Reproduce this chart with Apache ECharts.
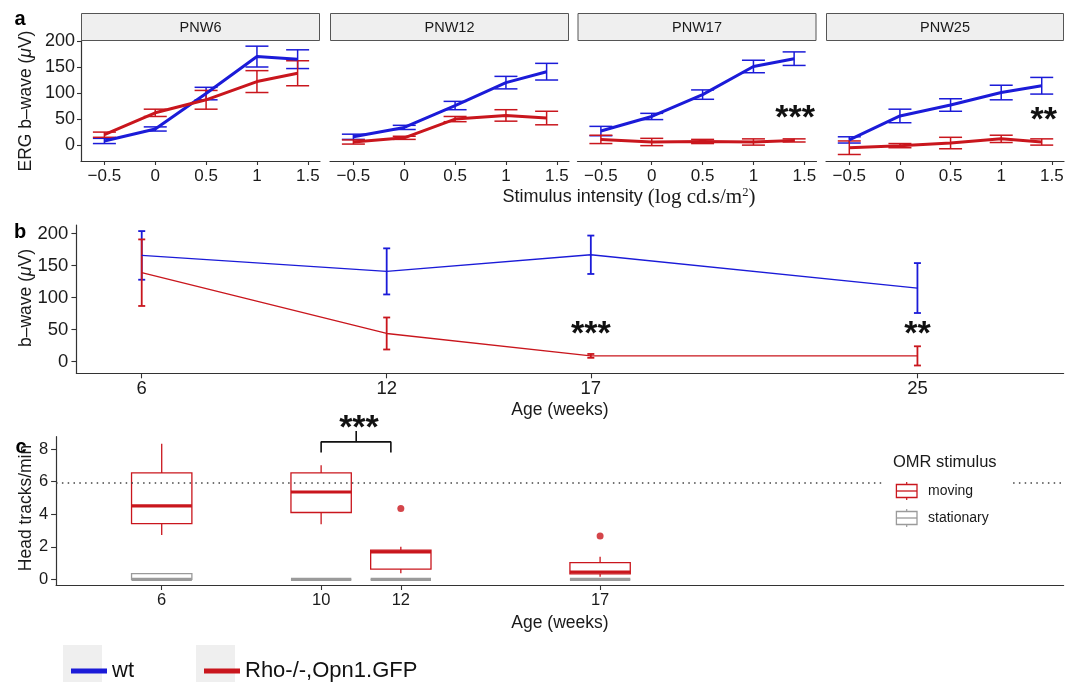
<!DOCTYPE html>
<html><head><meta charset="utf-8">
<script src="https://cdn.jsdelivr.net/npm/echarts@6/dist/echarts.min.js"></script>
<style>html,body{margin:0;padding:0;background:#fff}#c{width:1067px;height:682px}</style>
</head><body><div id="c"></div>
<script>
const FONT = '"Liberation Sans", Arial, Helvetica, sans-serif';
const SERIF = '"Liberation Serif", "DejaVu Serif", serif';
const BLUE = '#1b1bd8', RED = '#c9161d', GRAY = '#9a9a9a', AXIS = '#333333', TXT = '#1a1a1a';

// ---- Panel a : ERG b-wave vs stimulus intensity ----
const panelNames = ['PNW6', 'PNW12', 'PNW17', 'PNW25'];
const intensity = [-0.5, 0, 0.5, 1, 1.4];
const intensityTicks = [-0.5, 0, 0.5, 1, 1.5];
const ergTicks = [0, 50, 100, 150, 200];
const wtErg = [[8, 31, 99, 170, 165], [16, 34, 76, 120, 141], [27, 55, 97, 151, 166], [10, 56, 77, 101, 114]];
const wtErgSE = [[5, 4, 12, 20, 18], [5, 4, 8, 12, 16], [9, 6, 9, 12, 13], [6, 13, 12, 14, 16]];
const rhoErg = [[20, 62, 87, 122, 138], [6, 14, 50, 57, 52], [11, 6, 7, 6, 9], [-5, -1, 4, 12, 6]];
const rhoErgSE = [[5, 7, 18, 21, 24], [4, 3, 5, 11, 13], [8, 7, 4, 6, 3], [13, 4, 11, 7, 6]];
const ergSignifText = [null, null, '***', '**'];
const ergSignifPos = [null, null, [1.41, 66], [1.42, 62]];

// ---- Panel b : b-wave vs age ----
const ageB = [6, 12, 17, 25];
const wtB = [166, 141, 167, 115];
const wtBSE = [38, 36, 30, 39];
const rhoB = [139, 44, 9, 9];
const rhoBSE = [52, 25, 3, 15];
const bTicks = [0, 50, 100, 150, 200];
const bSignifText = ['***', '**'];
const bSignifPos = [[17, 54.5], [25, 54.5]];

// ---- Panel c : OMR head tracks ----
const ageC = [6, 10, 12, 17];
const cTicks = [0, 2, 4, 6, 8];
// [min, Q1, median, Q3, max]
const movingBox = [[2.72, 3.43, 4.52, 6.54, 8.34], [3.39, 4.11, 5.37, 6.54, 7.01], [0.37, 0.63, 1.69, 1.80, 2.00], [0.16, 0.33, 0.45, 1.02, 1.39]];
const stationaryBox = [[0, 0, 0, 0.35, 0.35], [0, 0, 0, 0, 0], [0, 0, 0, 0, 0], [0, 0, 0, 0, 0]];
const movingOutliers = [[12, 4.36], [17, 2.67]];
const wtReference = 5.93;
const bracketPts = [[10, 7.8], [10, 8.45], [11.75, 8.45], [11.75, 7.8]];
const bracketStem = [[10.88, 8.45], [10.88, 9.12]];
const cSignifText = ['***'];
const cSignifPos = [[10.95, 9.75]];

// ---------------- layout ----------------
const aTop = 40.7, aH = 120.3;
const aGrids = [{ left: 81, w: 239 }, { left: 330, w: 239 }, { left: 577.5, w: 239 }, { left: 826, w: 238 }];
const grids = aGrids.map(g => ({ left: g.left, top: aTop, width: g.w, height: aH }));
grids.push({ left: 76.4, top: 225, width: 987.2, height: 148.3 });   // b : index 4
grids.push({ left: 56.1, top: 436.7, width: 1007.5, height: 148.3 }); // c : index 5

const fmtNum = v => (v < 0 ? '\u2212' + Math.abs(v) : String(v));

function xAx(gi, min, max, ticks, fs, margin, tl) {
  return {
    type: 'value', gridIndex: gi, min: min, max: max,
    axisLine: { show: true, onZero: false, lineStyle: { color: AXIS, width: 1.2 } },
    axisTick: { show: true, length: tl, customValues: ticks, lineStyle: { color: AXIS, width: 1.1 } },
    axisLabel: { show: true, customValues: ticks, formatter: fmtNum, fontSize: fs, color: TXT, fontFamily: FONT, margin: margin },
    splitLine: { show: false }
  };
}
function yAx(gi, min, max, ticks, fs, margin, tl, show) {
  return {
    type: 'value', gridIndex: gi, min: min, max: max, show: show,
    axisLine: { show: true, onZero: false, lineStyle: { color: AXIS, width: 1.2 } },
    axisTick: { show: true, length: tl, customValues: ticks, lineStyle: { color: AXIS, width: 1.1 } },
    axisLabel: { show: true, customValues: ticks, formatter: fmtNum, fontSize: fs, color: TXT, fontFamily: FONT, margin: margin },
    splitLine: { show: false }
  };
}

const xAxes = [], yAxes = [];
for (let i = 0; i < 4; i++) {
  xAxes.push(xAx(i, -0.73, 1.62, intensityTicks, 17, 7, 4));
  yAxes.push(yAx(i, -30.5, 200.5, ergTicks, 18, 6, 4, i === 0));
}
xAxes.push(xAx(4, 4.40, 28.58, ageB, 18.5, 6, 5));
yAxes.push(yAx(4, -18.2, 213.5, bTicks, 18.5, 8, 5, true));
xAxes.push(xAx(5, 3.35, 28.63, ageC, 16.5, 7, 5));
yAxes.push(yAx(5, -0.35, 8.77, cTicks, 16.5, 8, 5, true));

function errBar(capPx, lw, color) {
  return function (params, api) {
    const x = api.value(0), lo = api.value(1), hi = api.value(2);
    const a = api.coord([x, lo]), b = api.coord([x, hi]);
    const st = { stroke: color, lineWidth: lw, fill: null };
    return {
      type: 'group', children: [
        { type: 'line', shape: { x1: a[0], y1: a[1], x2: b[0], y2: b[1] }, style: st },
        { type: 'line', shape: { x1: a[0] - capPx, y1: a[1], x2: a[0] + capPx, y2: a[1] }, style: st },
        { type: 'line', shape: { x1: b[0] - capPx, y1: b[1], x2: b[0] + capPx, y2: b[1] }, style: st }
      ]
    };
  };
}
function boxRender(color, halfW) {
  return function (params, api) {
    const x = api.value(0);
    const v = [1, 2, 3, 4, 5].map(k => api.value(k));
    const pMin = api.coord([x, v[0]]), pQ1 = api.coord([x, v[1]]), pMed = api.coord([x, v[2]]);
    const pQ3 = api.coord([x, v[3]]), pMax = api.coord([x, v[4]]);
    const l = api.coord([x - halfW, v[1]])[0], r = api.coord([x + halfW, v[1]])[0];
    const st = { stroke: color, lineWidth: 1.3, fill: null };
    return {
      type: 'group', children: [
        { type: 'line', shape: { x1: pMax[0], y1: pMax[1], x2: pQ3[0], y2: pQ3[1] }, style: st },
        { type: 'line', shape: { x1: pQ1[0], y1: pQ1[1], x2: pMin[0], y2: pMin[1] }, style: st },
        { type: 'rect', shape: { x: l, y: pQ3[1], width: r - l, height: pQ1[1] - pQ3[1] }, style: { stroke: color, lineWidth: 1.3, fill: '#ffffff' } },
        { type: 'line', shape: { x1: l, y1: pMed[1], x2: r, y2: pMed[1] }, style: { stroke: color, lineWidth: 3.2 } }
      ]
    };
  };
}
function starRender(texts, fs) {
  return function (params, api) {
    const p = api.coord([api.value(0), api.value(1)]);
    return {
      type: 'text', x: p[0], y: p[1] + 0.22 * fs,
      style: { text: texts[params.dataIndex], fontSize: fs, fontWeight: 'bold', fontFamily: FONT, fill: '#111', align: 'center', verticalAlign: 'middle' }
    };
  };
}

const series = [];
for (let p = 0; p < 4; p++) {
  series.push({
    type: 'custom', name: 'wt SE', xAxisIndex: p, yAxisIndex: p, z: 2, silent: true,
    renderItem: errBar(11.5, 1.5, BLUE), encode: { x: 0, y: [1, 2] },
    data: intensity.map((x, i) => [x, wtErg[p][i] - wtErgSE[p][i], wtErg[p][i] + wtErgSE[p][i]])
  });
  series.push({
    type: 'custom', name: 'rho SE', xAxisIndex: p, yAxisIndex: p, z: 2, silent: true,
    renderItem: errBar(11.5, 1.5, RED), encode: { x: 0, y: [1, 2] },
    data: intensity.map((x, i) => [x, rhoErg[p][i] - rhoErgSE[p][i], rhoErg[p][i] + rhoErgSE[p][i]])
  });
  series.push({
    type: 'line', name: 'wt', xAxisIndex: p, yAxisIndex: p, z: 3, symbol: 'none',
    lineStyle: { color: BLUE, width: 3 }, itemStyle: { color: BLUE },
    data: intensity.map((x, i) => [x, wtErg[p][i]])
  });
  series.push({
    type: 'line', name: 'Rho-/-,Opn1.GFP', xAxisIndex: p, yAxisIndex: p, z: 3, symbol: 'none',
    lineStyle: { color: RED, width: 3 }, itemStyle: { color: RED },
    data: intensity.map((x, i) => [x, rhoErg[p][i]])
  });
  if (ergSignifText[p]) {
    series.push({
      type: 'custom', name: 'signif a' + p, xAxisIndex: p, yAxisIndex: p, z: 5, silent: true,
      renderItem: starRender([ergSignifText[p]], 34), data: [ergSignifPos[p]]
    });
  }
}
// panel b
series.push({
  type: 'custom', name: 'wt SE b', xAxisIndex: 4, yAxisIndex: 4, z: 2, silent: true,
  renderItem: errBar(3.5, 1.8, BLUE), encode: { x: 0, y: [1, 2] },
  data: ageB.map((x, i) => [x, wtB[i] - wtBSE[i], wtB[i] + wtBSE[i]])
});
series.push({
  type: 'custom', name: 'rho SE b', xAxisIndex: 4, yAxisIndex: 4, z: 2, silent: true,
  renderItem: errBar(3.5, 1.8, RED), encode: { x: 0, y: [1, 2] },
  data: ageB.map((x, i) => [x, rhoB[i] - rhoBSE[i], rhoB[i] + rhoBSE[i]])
});
series.push({
  type: 'line', name: 'wt', xAxisIndex: 4, yAxisIndex: 4, z: 3, symbol: 'none',
  lineStyle: { color: BLUE, width: 1.3 }, itemStyle: { color: BLUE },
  data: ageB.map((x, i) => [x, wtB[i]])
});
series.push({
  type: 'line', name: 'Rho-/-,Opn1.GFP', xAxisIndex: 4, yAxisIndex: 4, z: 3, symbol: 'none',
  lineStyle: { color: RED, width: 1.3 }, itemStyle: { color: RED },
  data: ageB.map((x, i) => [x, rhoB[i]])
});
series.push({
  type: 'custom', name: 'signif b', xAxisIndex: 4, yAxisIndex: 4, z: 5, silent: true,
  renderItem: starRender(bSignifText, 34), data: bSignifPos
});
// panel c
series.push({
  type: 'custom', name: 'moving', xAxisIndex: 5, yAxisIndex: 5, z: 3, silent: true,
  renderItem: boxRender(RED, 0.757), encode: { x: 0, y: [1, 2, 3, 4, 5] },
  data: ageC.map((a, i) => [a].concat(movingBox[i])),
  markLine: {
    silent: true, symbol: 'none', label: { show: false },
    lineStyle: { color: '#444', type: [1.5, 4.3], width: 1.5 },
    data: [{ yAxis: wtReference }]
  }
});
series.push({
  type: 'custom', name: 'stationary', xAxisIndex: 5, yAxisIndex: 5, z: 3, silent: true,
  renderItem: boxRender(GRAY, 0.757), encode: { x: 0, y: [1, 2, 3, 4, 5] },
  data: ageC.map((a, i) => [a].concat(stationaryBox[i]))
});
series.push({
  type: 'scatter', name: 'outliers', xAxisIndex: 5, yAxisIndex: 5, z: 4, silent: true,
  symbol: 'circle', symbolSize: 7, itemStyle: { color: RED }, data: movingOutliers
});
series.push({
  type: 'line', name: 'bracket', xAxisIndex: 5, yAxisIndex: 5, z: 4, silent: true, clip: false,
  symbol: 'none', lineStyle: { color: '#111', width: 1.6 }, data: bracketPts
});
series.push({
  type: 'line', name: 'bracket stem', xAxisIndex: 5, yAxisIndex: 5, z: 4, silent: true, clip: false,
  symbol: 'none', lineStyle: { color: '#111', width: 1.6 }, data: bracketStem
});
series.push({
  type: 'custom', name: 'signif c', xAxisIndex: 5, yAxisIndex: 5, z: 5, silent: true,
  renderItem: starRender(cSignifText, 34), data: cSignifPos
});

// ---------------- graphics (strips, titles, legends) ----------------
const graphic = [];
aGrids.forEach((g, i) => {
  graphic.push({ type: 'rect', z: 10, shape: { x: g.left + 0.5, y: 13.5, width: g.w - 1, height: 27 }, style: { fill: '#efefef', stroke: '#555', lineWidth: 1 } });
  graphic.push({ type: 'text', z: 11, x: g.left + g.w / 2, y: 27.5, style: { text: panelNames[i], fontSize: 14.5, fontFamily: FONT, fill: TXT, align: 'center', verticalAlign: 'middle' } });
});
function label(t, x, y) {
  graphic.push({ type: 'text', z: 11, x: x, y: y, style: { text: t, fontSize: 20, fontWeight: 'bold', fontFamily: FONT, fill: '#000', align: 'center', verticalAlign: 'middle' } });
}
label('a', 20, 19); label('b', 20, 232); label('c', 21, 447);
function yTitle(t, x, y, fs) {
  graphic.push({
    type: 'text', z: 11, x: x, y: y, rotation: Math.PI / 2,
    style: { text: t, fontSize: fs, fontFamily: FONT, fill: TXT, align: 'center', verticalAlign: 'middle', rich: { i: { fontStyle: 'italic', fontSize: fs, fontFamily: FONT, fill: TXT } } }
  });
}
yTitle('ERG b\u2013wave ({i|\u03bc}V)', 26, 101, 17.5);
yTitle('b\u2013wave ({i|\u03bc}V)', 26, 298, 17.5);
yTitle('Head tracks/min', 26, 508, 17.5);
graphic.push({
  type: 'text', z: 11, x: 629, y: 197,
  style: {
    text: '{s|Stimulus intensity }{r|(log cd.s/m}{p|2}{r|)}', align: 'center', verticalAlign: 'middle',
    rich: {
      s: { fontSize: 18, fontFamily: FONT, fill: TXT },
      r: { fontSize: 21, fontFamily: SERIF, fill: TXT },
      p: { fontSize: 12.5, fontFamily: SERIF, fill: TXT, padding: [0, 0, 9, 0] }
    }
  }
});
graphic.push({ type: 'text', z: 11, x: 560, y: 410, style: { text: 'Age (weeks)', fontSize: 17.5, fontFamily: FONT, fill: TXT, align: 'center', verticalAlign: 'middle' } });
graphic.push({ type: 'text', z: 11, x: 560, y: 623, style: { text: 'Age (weeks)', fontSize: 17.5, fontFamily: FONT, fill: TXT, align: 'center', verticalAlign: 'middle' } });

// OMR legend (panel c)
graphic.push({ type: 'rect', z: 20, shape: { x: 884.5, y: 447, width: 128.5, height: 84 }, style: { fill: '#ffffff' } });
graphic.push({ type: 'text', z: 21, x: 893, y: 462, style: { text: 'OMR stimulus', fontSize: 16.5, fontFamily: FONT, fill: TXT, align: 'left', verticalAlign: 'middle' } });
function omrKey(cy, color, txt) {
  const cx = 906.7, hw = 10.3;
  graphic.push({ type: 'line', z: 21, shape: { x1: cx, y1: cy - 9, x2: cx, y2: cy + 9 }, style: { stroke: color, lineWidth: 1.2 } });
  graphic.push({ type: 'rect', z: 21, shape: { x: cx - hw, y: cy - 6.5, width: 2 * hw, height: 13 }, style: { fill: '#fff', stroke: color, lineWidth: 1.3 } });
  graphic.push({ type: 'line', z: 21, shape: { x1: cx - hw, y1: cy, x2: cx + hw, y2: cy }, style: { stroke: color, lineWidth: 1.3 } });
  graphic.push({ type: 'text', z: 21, x: 928, y: cy, style: { text: txt, fontSize: 14, fontFamily: FONT, fill: TXT, align: 'left', verticalAlign: 'middle' } });
}
omrKey(491, RED, 'moving');
omrKey(518, GRAY, 'stationary');

// bottom legend key backgrounds
graphic.push({ type: 'rect', z: 0, shape: { x: 63, y: 645, width: 39, height: 37 }, style: { fill: '#efefef' } });
graphic.push({ type: 'rect', z: 0, shape: { x: 196, y: 645, width: 39, height: 37 }, style: { fill: '#efefef' } });

const option = {
  animation: false,
  backgroundColor: '#ffffff',
  grid: grids,
  xAxis: xAxes,
  yAxis: yAxes,
  legend: {
    data: ['wt', 'Rho-/-,Opn1.GFP'], left: 66, top: 655, icon: 'rect', itemWidth: 36, itemHeight: 5, itemGap: 70,
    selectedMode: false, textStyle: { fontSize: 22, color: '#111', fontFamily: FONT }
  },
  graphic: graphic,
  series: series
};
const chart = echarts.init(document.getElementById('c'), null, { renderer: 'canvas' });
chart.setOption(option);
</script></body></html>
